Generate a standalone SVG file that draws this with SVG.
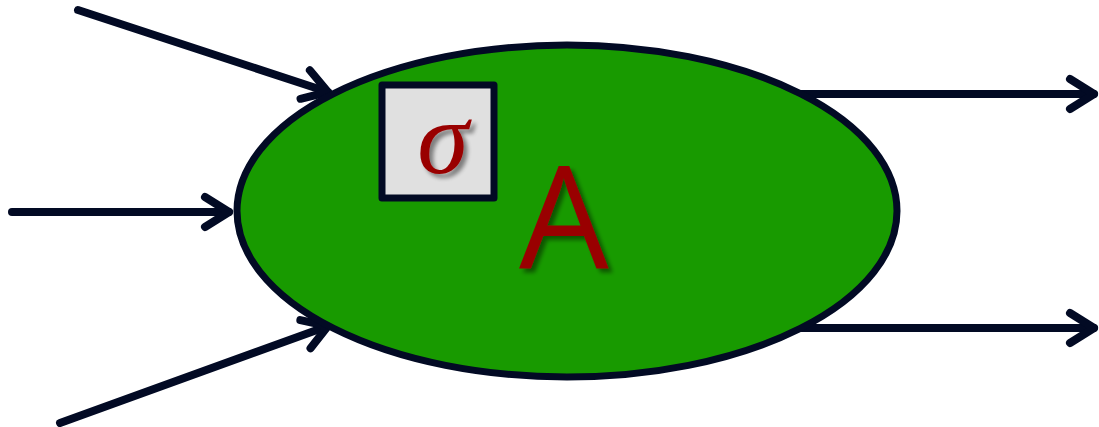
<svg xmlns="http://www.w3.org/2000/svg" width="1099" height="427" viewBox="0 0 1099 427">
<defs>
<style>
.conn{stroke:#020a24;stroke-width:8;stroke-linecap:round;fill:none}
.lbl{fill:#990000}
</style>
<marker id="arr" markerUnits="userSpaceOnUse" viewBox="-30 -20 36 40" refX="0" refY="0" markerWidth="36" markerHeight="40" orient="auto" overflow="visible">
<path d="M-24,-15 L0,0 L-24,15" fill="none" stroke="#020a24" stroke-width="8" stroke-linecap="round" stroke-linejoin="round"/>
</marker>
<filter id="sh" x="-20%" y="-20%" width="150%" height="150%">
<feGaussianBlur in="SourceAlpha" stdDeviation="2"/>
<feOffset dx="4" dy="4" result="b"/>
<feComponentTransfer><feFuncA type="linear" slope="0.45"/></feComponentTransfer>
<feMerge><feMergeNode/><feMergeNode in="SourceGraphic"/></feMerge>
</filter>
</defs>
<rect width="1099" height="427" fill="#ffffff"/>
<g id="connectors">
<line class="conn" x1="78" y1="10" x2="328" y2="92" marker-end="url(#arr)"/>
<line class="conn" x1="12" y1="212" x2="229" y2="212" marker-end="url(#arr)"/>
<line class="conn" x1="60" y1="423" x2="328" y2="326" marker-end="url(#arr)"/>
<line class="conn" x1="800" y1="94" x2="1094" y2="94" marker-end="url(#arr)"/>
<line class="conn" x1="800" y1="328" x2="1094" y2="328" marker-end="url(#arr)"/>
</g>
<g id="nodeA">
<ellipse cx="567" cy="211" rx="330" ry="166" fill="#189a00" stroke="#020a24" stroke-width="7"/>
<text class="lbl" x="564" y="268" font-family="Open Sans, Liberation Sans, sans-serif" font-size="142" text-anchor="middle" filter="url(#sh)">A</text>
</g>
<g id="sigma">
<rect x="382" y="85" width="112" height="113" fill="#e0e0e0" stroke="#020a24" stroke-width="7" stroke-linejoin="round"/>
<text class="lbl" x="443" y="173" font-family="Liberation Serif, serif" font-style="italic" font-size="104" text-anchor="middle" filter="url(#sh)">σ</text>
</g>
</svg>
